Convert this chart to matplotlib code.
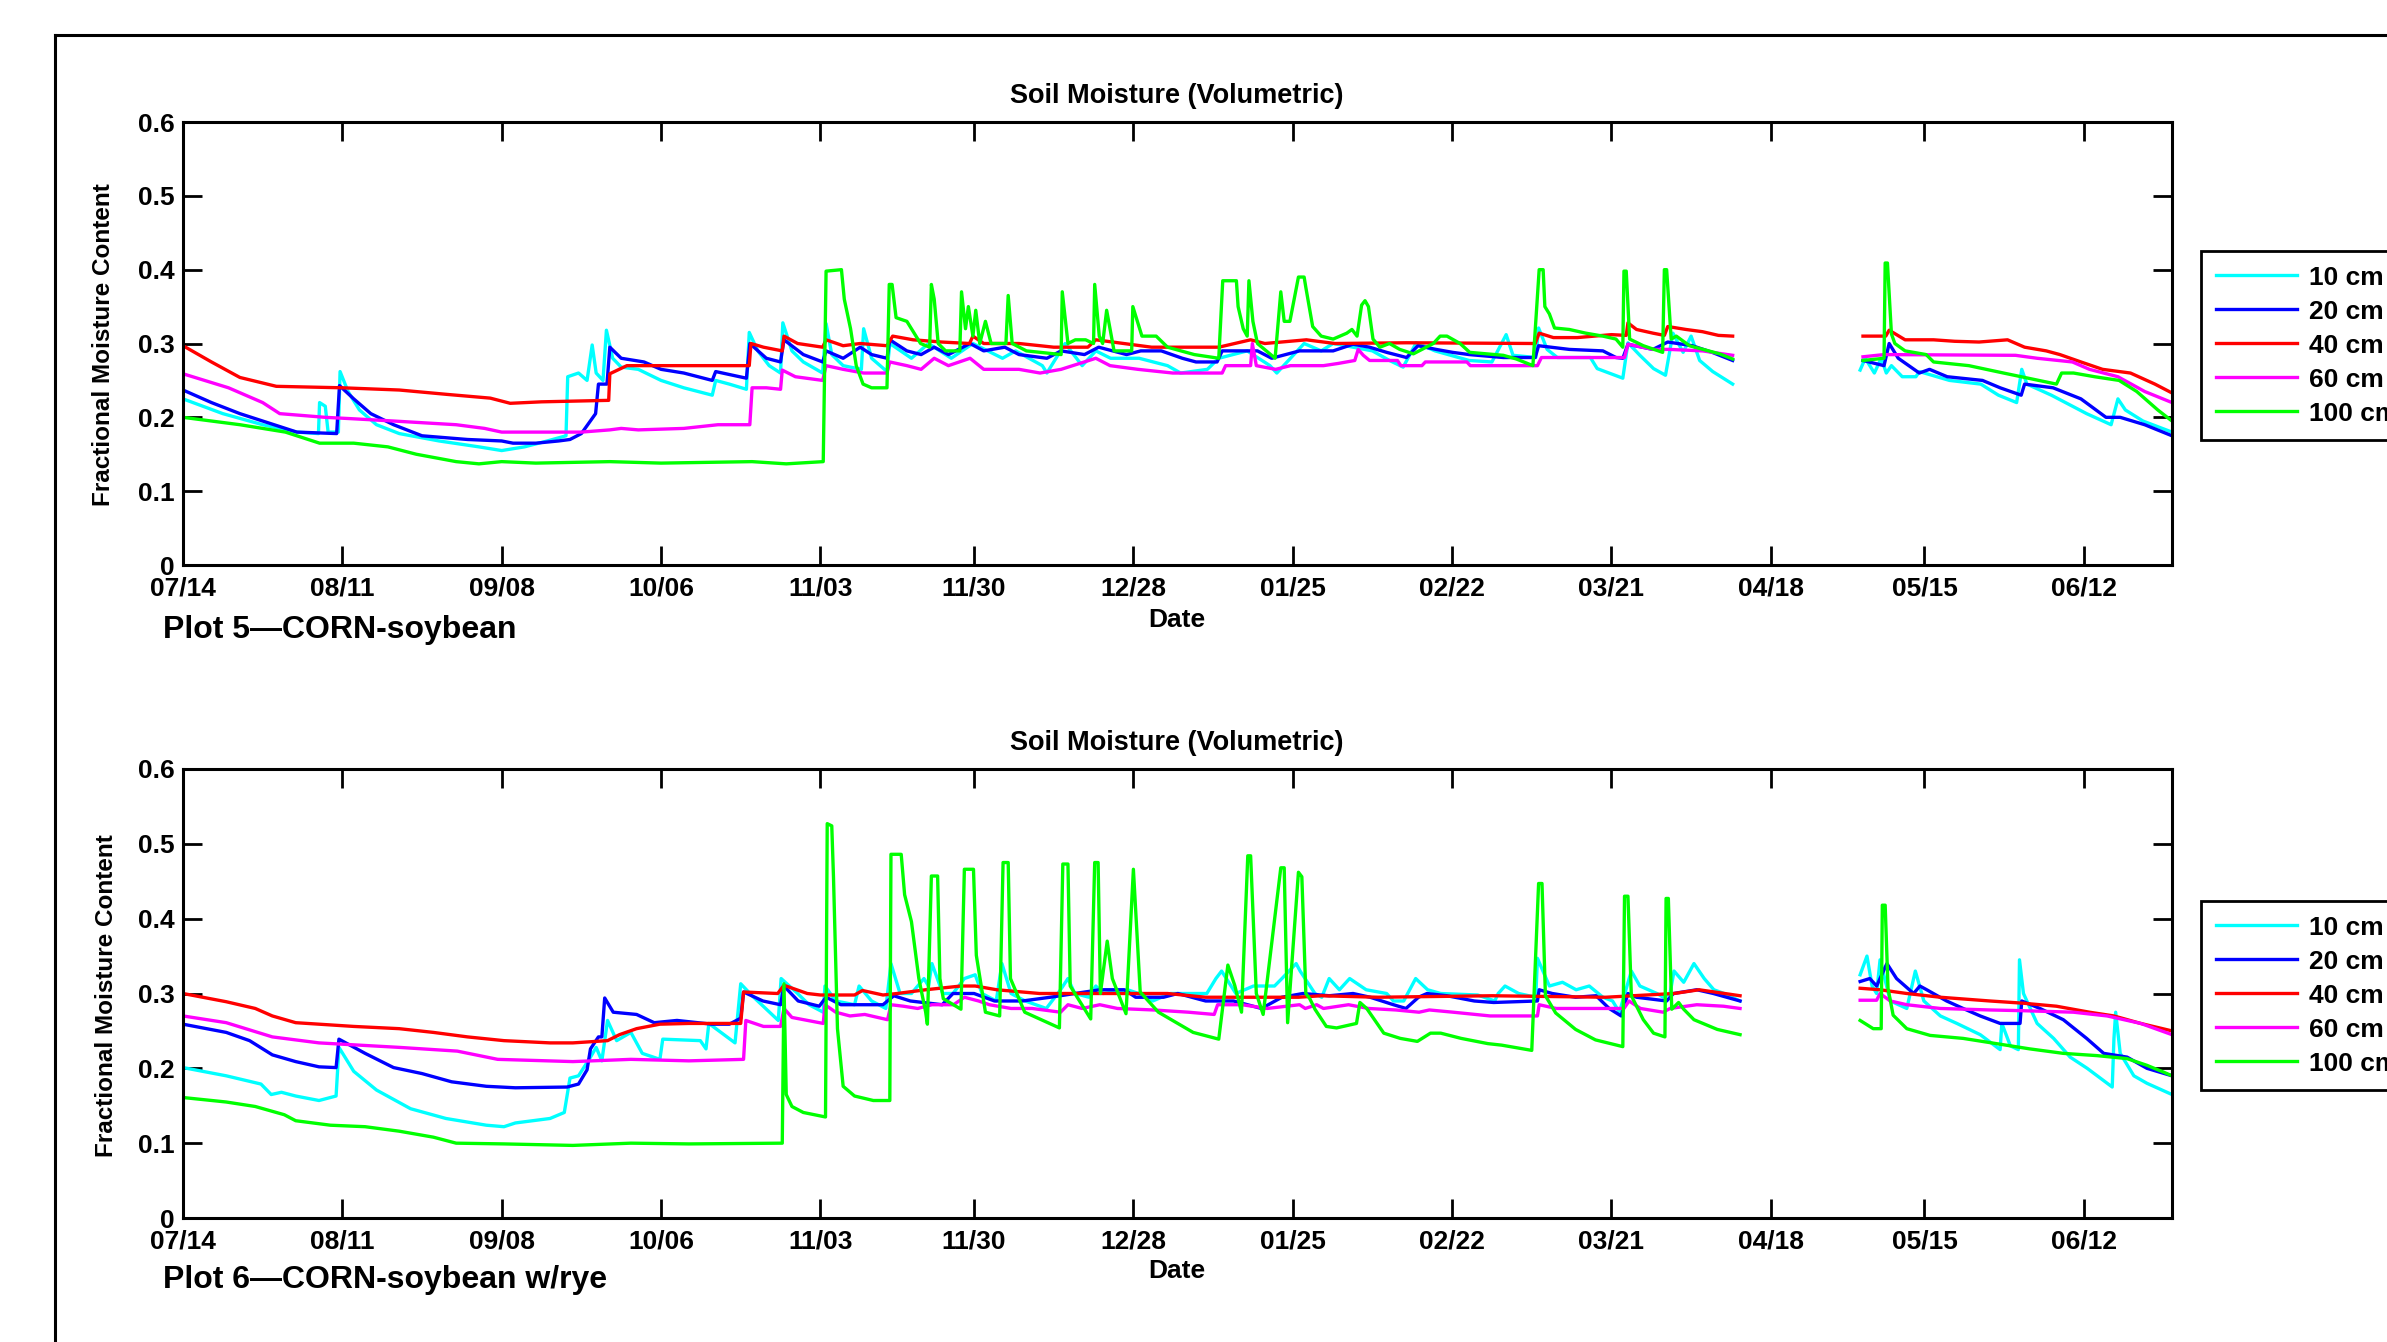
import numpy as np
import matplotlib
matplotlib.use("Agg")
import matplotlib.pyplot as plt
from matplotlib.lines import Line2D

nan = np.nan

# x axis: days after 07/14
tick_days = [0, 28, 56, 84, 112, 139, 167, 195, 223, 251, 279, 306, 334]
tick_labels = ['07/14', '08/11', '09/08', '10/06', '11/03', '11/30', '12/28',
               '01/25', '02/22', '03/21', '04/18', '05/15', '06/12']
y_ticks = [0, 0.1, 0.2, 0.3, 0.4, 0.5, 0.6]
y_labels = ['0', '0.1', '0.2', '0.3', '0.4', '0.5', '0.6']
depths = ['10 cm', '20 cm', '40 cm', '60 cm', '100 cm']
colors = ['#00ffff', '#0000ff', '#ff0000', '#ff00ff', '#00ff00']

# ---- Plot 5 (day, moisture) ----
p5_10 = [(0, 0.225), (7, 0.205), (14, 0.19), (20, 0.18), (23.8, 0.178), (24, 0.22), (25, 0.215),
         (25.5, 0.18), (27.3, 0.18), (27.6, 0.262), (29, 0.235), (31, 0.21), (34, 0.19), (38, 0.178),
         (45, 0.168), (52, 0.16), (56, 0.155), (60, 0.16), (64, 0.168), (67.3, 0.175), (67.6, 0.255),
         (69.5, 0.26), (71, 0.25), (71.9, 0.298), (72.6, 0.26), (73.8, 0.25), (74.4, 0.318), (75.5, 0.28),
         (77, 0.268), (80, 0.265), (84, 0.25), (88, 0.24), (93, 0.23), (93.6, 0.25), (96, 0.245),
         (99, 0.238), (99.5, 0.315), (101, 0.29), (103, 0.27), (105, 0.26), (105.4, 0.328), (107, 0.29),
         (109, 0.275), (112.4, 0.26), (113, 0.327), (114, 0.285), (116, 0.27), (119.2, 0.265),
         (119.6, 0.32), (121, 0.28), (123.7, 0.262), (124.2, 0.3), (128, 0.28), (131, 0.3), (135, 0.28),
         (138.8, 0.3), (144, 0.28), (146.3, 0.29), (151, 0.27), (151.8, 0.26), (155, 0.3), (158, 0.27),
         (160.4, 0.29), (163, 0.28), (168, 0.28), (173, 0.27), (175.3, 0.26), (180, 0.265), (182, 0.28),
         (187, 0.29), (191, 0.27), (192.2, 0.26), (194.6, 0.28), (197, 0.3), (200, 0.29), (202.1, 0.3),
         (205.6, 0.295), (209, 0.29), (212, 0.277), (214.4, 0.268), (216.7, 0.301), (220, 0.29),
         (226, 0.277), (230, 0.275), (232.5, 0.312), (233.7, 0.284), (237.7, 0.281), (238.2, 0.321),
         (239.7, 0.292), (241.5, 0.281), (247.3, 0.281), (248.5, 0.266), (253, 0.253), (253.9, 0.301),
         (256, 0.284), (258.4, 0.266), (260.5, 0.257), (261.8, 0.314), (263.6, 0.288), (265, 0.31),
         (266.5, 0.277), (268.8, 0.262), (272.3, 0.245), (283, nan),
         (294.7, 0.264), (295.6, 0.28), (297.2, 0.26), (298.4, 0.28), (299.3, 0.26), (300.2, 0.27),
         (302.1, 0.255), (304.5, 0.255), (305.1, 0.262), (310.4, 0.25), (315.9, 0.245), (319, 0.23),
         (322.2, 0.22), (323.1, 0.265), (324, 0.245), (328.3, 0.23), (334.5, 0.205), (338.8, 0.19),
         (340, 0.225), (341.3, 0.21), (344.4, 0.195), (349.5, 0.18)]

p5_20 = [(0, 0.237), (5, 0.22), (10, 0.205), (16, 0.19), (20, 0.18), (27, 0.178), (27.5, 0.243),
         (30, 0.225), (33, 0.205), (37, 0.19), (42, 0.175), (50, 0.17), (56, 0.168), (58, 0.165),
         (62, 0.165), (66, 0.168), (68, 0.17), (70, 0.178), (72.5, 0.205), (73, 0.245), (74.5, 0.245),
         (75, 0.295), (77, 0.28), (81, 0.275), (84, 0.265), (88, 0.26), (93, 0.25), (93.6, 0.262),
         (96, 0.258), (99, 0.253), (99.6, 0.3), (102.5, 0.28), (105, 0.275), (105.6, 0.305), (109, 0.285),
         (112.4, 0.275), (113, 0.29), (116, 0.28), (119, 0.295), (121, 0.285), (123.7, 0.28),
         (124.2, 0.305), (127.2, 0.29), (129.7, 0.285), (132, 0.295), (134.5, 0.285), (138.3, 0.3),
         (140.7, 0.29), (144.4, 0.295), (146.9, 0.285), (151.8, 0.28), (154.3, 0.29), (158.4, 0.285),
         (160.9, 0.295), (165.8, 0.285), (168.3, 0.29), (171.9, 0.29), (175.6, 0.28), (178, 0.275),
         (181.7, 0.275), (182.6, 0.29), (188.8, 0.29), (191.3, 0.28), (196.2, 0.29), (202.1, 0.29),
         (205.6, 0.299), (208.5, 0.295), (211.5, 0.288), (215, 0.281), (217, 0.297), (220.2, 0.292),
         (223.1, 0.288), (226, 0.285), (232, 0.281), (237.6, 0.281), (238.2, 0.297), (243.6, 0.292),
         (249.5, 0.29), (251.8, 0.281), (253, 0.28), (253.9, 0.299), (258.3, 0.292), (260.9, 0.302),
         (265.2, 0.297), (268.7, 0.288), (272.3, 0.277), (283, nan),
         (295.2, 0.277), (298.9, 0.27), (299.8, 0.3), (301.4, 0.28), (305.1, 0.26), (306.9, 0.265),
         (310, 0.255), (316.2, 0.25), (319.3, 0.24), (323, 0.23), (323.6, 0.245), (328.6, 0.24),
         (333.5, 0.225), (337.9, 0.2), (340.4, 0.2), (344.7, 0.19), (349.5, 0.175)]

p5_40 = [(0, 0.297), (5, 0.275), (10, 0.254), (16.4, 0.242), (28, 0.24), (38, 0.237), (46.5, 0.231),
         (54, 0.226), (57.5, 0.219), (63, 0.221), (74.8, 0.223), (75, 0.259), (78, 0.27), (99.5, 0.27),
         (99.8, 0.3), (102, 0.295), (105.3, 0.29), (105.6, 0.31), (108, 0.3), (112.4, 0.295),
         (113, 0.305), (116, 0.297), (119, 0.3), (123.7, 0.297), (124.7, 0.31), (128.3, 0.305),
         (133.3, 0.302), (138.2, 0.3), (138.8, 0.31), (140.7, 0.3), (146.9, 0.3), (150.6, 0.297),
         (153, 0.295), (159, 0.295), (160.4, 0.305), (165.3, 0.3), (170.2, 0.295), (182, 0.295),
         (187.6, 0.305), (190.1, 0.3), (197.4, 0.305), (202.4, 0.3), (215, 0.301), (237.6, 0.3),
         (238.3, 0.314), (240.8, 0.308), (245, 0.308), (251, 0.312), (253.6, 0.311), (253.9, 0.328),
         (255.4, 0.319), (258.3, 0.314), (260.3, 0.311), (260.9, 0.323), (264.1, 0.319), (267, 0.316),
         (269.8, 0.311), (272.3, 0.31), (283, nan),
         (295.2, 0.31), (299.2, 0.31), (299.8, 0.318), (302.6, 0.305), (307.6, 0.305), (311.3, 0.303),
         (315.6, 0.302), (320.6, 0.305), (323.6, 0.295), (327.4, 0.29), (329.8, 0.285), (333.5, 0.275),
         (337.3, 0.265), (342.2, 0.26), (346.5, 0.245), (349.5, 0.233)]

p5_60 = [(0, 0.259), (8, 0.24), (14, 0.22), (17, 0.205), (25, 0.2), (30, 0.198), (37, 0.195),
         (48, 0.19), (53, 0.185), (56, 0.18), (70, 0.18), (75, 0.183), (77, 0.185), (80, 0.183),
         (88, 0.185), (94, 0.19), (99.6, 0.19), (100, 0.24), (102.5, 0.24), (105, 0.238), (105.3, 0.264),
         (107.6, 0.255), (112.4, 0.25), (113, 0.27), (116, 0.265), (119.6, 0.26), (123.7, 0.26),
         (124.2, 0.275), (127.2, 0.27), (129.7, 0.265), (132, 0.28), (134.5, 0.27), (138.3, 0.28),
         (140.7, 0.265), (146.9, 0.265), (150.6, 0.26), (154.3, 0.265), (160.4, 0.28), (162.9, 0.27),
         (167.8, 0.265), (173.9, 0.26), (182.6, 0.26), (183.2, 0.27), (187.6, 0.27), (187.9, 0.3),
         (188.6, 0.27), (192, 0.265), (194.6, 0.27), (200.4, 0.27), (203, 0.273), (205.9, 0.277),
         (206.5, 0.292), (207.4, 0.284), (208.5, 0.277), (213.4, 0.277), (214, 0.27), (217.7, 0.27),
         (218.3, 0.275), (225.6, 0.275), (226.2, 0.27), (238, 0.27), (238.7, 0.281), (253.3, 0.281),
         (253.9, 0.299), (258.3, 0.292), (261.2, 0.292), (267, 0.29), (272.3, 0.284), (283, nan),
         (295.2, 0.282), (298.9, 0.285), (322, 0.284), (325.8, 0.28), (332, 0.275), (335, 0.265),
         (340, 0.255), (344.7, 0.235), (349.5, 0.22)]

p5_100 = [(0, 0.2), (10, 0.19), (18, 0.18), (24, 0.165), (30, 0.165), (36, 0.16), (41, 0.15),
          (48, 0.14), (52, 0.137), (56, 0.14), (62, 0.138), (75, 0.14), (84, 0.138), (100, 0.14),
          (106, 0.137), (112.5, 0.14), (113, 0.398), (115.7, 0.4), (116.2, 0.36), (117.3, 0.32),
          (118.3, 0.27), (119.5, 0.245), (121, 0.24), (123.7, 0.24), (124.1, 0.38), (124.6, 0.38),
          (125.3, 0.335), (127.2, 0.33), (129.6, 0.3), (131.2, 0.295), (131.5, 0.38), (132, 0.36),
          (132.7, 0.3), (134, 0.29), (136.5, 0.29), (136.8, 0.37), (137.5, 0.32), (138, 0.35),
          (138.8, 0.31), (139.3, 0.345), (140, 0.3), (141, 0.33), (142, 0.3), (144.6, 0.3), (145, 0.365),
          (145.7, 0.3), (148.2, 0.29), (154.3, 0.285), (154.5, 0.37), (155.5, 0.3), (156.8, 0.305),
          (158.6, 0.305), (160, 0.3), (160.2, 0.38), (161, 0.31), (161.6, 0.3), (162.3, 0.345),
          (163.6, 0.29), (166.7, 0.29), (166.9, 0.35), (168.5, 0.31), (171, 0.31), (173, 0.295),
          (177.7, 0.285), (182, 0.28), (182.7, 0.385), (185.1, 0.385), (185.4, 0.35), (186.3, 0.32),
          (187, 0.31), (187.3, 0.385), (188, 0.33), (188.8, 0.3), (191.9, 0.28), (192.9, 0.37),
          (193.5, 0.33), (194.5, 0.33), (196, 0.39), (197, 0.39), (197.3, 0.376), (198.5, 0.323),
          (200, 0.31), (202.1, 0.306), (204.5, 0.314), (205.4, 0.319), (206.3, 0.31), (207.1, 0.352),
          (207.7, 0.358), (208.3, 0.35), (209.1, 0.306), (210.3, 0.295), (212, 0.3), (213.8, 0.292),
          (216.2, 0.286), (219.7, 0.3), (220.9, 0.31), (222.1, 0.31), (224.4, 0.3), (226.1, 0.288),
          (232, 0.284), (234.3, 0.279), (237.2, 0.27), (238.3, 0.4), (239, 0.4), (239.3, 0.35),
          (240.1, 0.34), (241, 0.321), (243.6, 0.319), (246.5, 0.314), (249.5, 0.31), (251.8, 0.306),
          (253, 0.295), (253.2, 0.398), (253.6, 0.398), (254.2, 0.306), (256.6, 0.297), (260, 0.288),
          (260.3, 0.4), (260.7, 0.4), (261.5, 0.306), (262.4, 0.31), (264.7, 0.297), (267.1, 0.292),
          (270, 0.286), (272.3, 0.279), (283, nan),
          (295.2, 0.277), (298.9, 0.28), (299.1, 0.409), (299.5, 0.409), (300.2, 0.313), (300.8, 0.3),
          (302.6, 0.29), (306.3, 0.285), (307.6, 0.275), (313.8, 0.27), (319.9, 0.26), (326.1, 0.25),
          (329.2, 0.245), (330.1, 0.26), (332.2, 0.26), (335.9, 0.255), (340.2, 0.25), (343.3, 0.235),
          (347, 0.21), (349.5, 0.195)]

# ---- Plot 6 (day, moisture) ----
p6_10 = [(0, 0.201), (7.6, 0.19), (13.7, 0.179), (15.5, 0.165), (17.3, 0.168), (19.8, 0.163),
         (23.9, 0.157), (26.9, 0.163), (27.4, 0.228), (30, 0.196), (34, 0.171), (40, 0.146),
         (46.2, 0.133), (53.3, 0.124), (56.4, 0.122), (58.4, 0.127), (64.5, 0.133), (67, 0.141),
         (68, 0.187), (69.5, 0.19), (71.6, 0.215), (72.6, 0.228), (73.6, 0.21), (74.6, 0.264),
         (76.2, 0.237), (78.7, 0.248), (80.7, 0.22), (83.8, 0.212), (84.3, 0.239), (90.9, 0.237),
         (91.9, 0.226), (92.4, 0.26), (97, 0.234), (98, 0.313), (100, 0.297), (104.6, 0.264),
         (105.1, 0.32), (108, 0.3), (110, 0.285), (112.5, 0.275), (112.8, 0.31), (114.7, 0.29),
         (118, 0.285), (118.8, 0.31), (121, 0.29), (123.5, 0.28), (124.4, 0.34), (126, 0.3), (128, 0.3),
         (130.2, 0.32), (131, 0.31), (131.6, 0.34), (133.5, 0.3), (135.3, 0.3), (137.3, 0.32),
         (139.2, 0.325), (140.4, 0.3), (142.9, 0.29), (143.9, 0.34), (145.5, 0.3), (148, 0.29),
         (151.7, 0.28), (154.2, 0.305), (155.5, 0.32), (156.7, 0.3), (159.2, 0.295), (160.4, 0.31),
         (161.7, 0.3), (166, 0.305), (167.9, 0.3), (170.4, 0.29), (173.5, 0.3), (179.9, 0.3),
         (181.5, 0.32), (182.5, 0.33), (185, 0.3), (188.1, 0.31), (191.8, 0.31), (193.1, 0.32),
         (195.6, 0.34), (196.3, 0.33), (198.9, 0.3), (200.1, 0.295), (201.4, 0.32), (203.2, 0.305),
         (205, 0.32), (207.9, 0.305), (211.5, 0.3), (212.7, 0.29), (214.5, 0.29), (216.6, 0.32),
         (218.7, 0.305), (221, 0.3), (227.5, 0.298), (230.5, 0.29), (231.1, 0.3), (232.3, 0.31),
         (234.7, 0.3), (237.7, 0.295), (238, 0.347), (240.1, 0.31), (242.4, 0.315), (244.8, 0.305),
         (247.1, 0.31), (249.5, 0.295), (251.2, 0.29), (252.4, 0.275), (254.5, 0.33), (256, 0.31),
         (259, 0.3), (260.1, 0.295), (261.3, 0.3), (262, 0.33), (263.7, 0.315), (265.5, 0.34),
         (267.3, 0.32), (269, 0.305), (270.8, 0.3), (273.6, 0.29), (284, nan),
         (294.7, 0.325), (295.9, 0.35), (296.8, 0.31), (297.6, 0.3), (298.2, 0.345), (300, 0.29),
         (302.9, 0.28), (304.4, 0.33), (305.9, 0.29), (308.8, 0.27), (311.7, 0.26), (315.8, 0.245),
         (319.3, 0.225), (319.6, 0.26), (321.1, 0.23), (322.5, 0.225), (322.7, 0.345), (323.4, 0.3),
         (325.8, 0.26), (328.7, 0.24), (331.6, 0.215), (334.6, 0.2), (338.1, 0.18), (339, 0.175),
         (339.3, 0.24), (339.6, 0.275), (340.4, 0.22), (342.8, 0.19), (345.1, 0.18), (349.5, 0.165)]

p6_20 = [(0, 0.259), (7.6, 0.248), (11.7, 0.237), (15.7, 0.218), (19.8, 0.209), (23.9, 0.202),
         (26.9, 0.201), (27.4, 0.239), (32, 0.22), (37, 0.201), (42, 0.193), (47.2, 0.182),
         (53.3, 0.176), (58.4, 0.174), (67.5, 0.175), (69.5, 0.179), (71, 0.198), (71.6, 0.226),
         (73, 0.242), (73.6, 0.242), (74.1, 0.294), (75.6, 0.275), (79.7, 0.272), (82.8, 0.261),
         (86.8, 0.264), (92.9, 0.259), (96, 0.259), (98, 0.267), (98.5, 0.302), (101.9, 0.29),
         (105, 0.285), (105.6, 0.31), (108.1, 0.29), (111.8, 0.283), (113, 0.295), (115.6, 0.285),
         (123, 0.285), (124.9, 0.297), (127.8, 0.29), (133.4, 0.285), (135.3, 0.3), (139, 0.3),
         (142.6, 0.29), (147.5, 0.29), (152.4, 0.295), (161.1, 0.305), (165.4, 0.305), (167.4, 0.295),
         (172.3, 0.295), (174.8, 0.3), (179.7, 0.29), (184.6, 0.29), (189.5, 0.28), (193.1, 0.295),
         (196.8, 0.3), (201.4, 0.297), (205.6, 0.3), (208.6, 0.295), (212.7, 0.285), (214.9, 0.28),
         (217.1, 0.295), (218.6, 0.3), (222.1, 0.297), (226.9, 0.29), (230.3, 0.288), (238, 0.29),
         (238.3, 0.305), (240.6, 0.3), (244.7, 0.295), (248.3, 0.297), (250.6, 0.28), (252.7, 0.27),
         (253.9, 0.3), (255.4, 0.295), (260.7, 0.29), (261.9, 0.3), (266, 0.305), (268.9, 0.3),
         (273.6, 0.29), (284, nan),
         (294.7, 0.316), (296.4, 0.32), (297.6, 0.31), (299.4, 0.34), (301.1, 0.32), (304.1, 0.3),
         (305.2, 0.31), (306.4, 0.305), (309.9, 0.29), (312.8, 0.28), (315.8, 0.27), (319.3, 0.26),
         (322.8, 0.26), (323.1, 0.29), (326.3, 0.28), (330.4, 0.265), (334.5, 0.24), (337.5, 0.22),
         (341.6, 0.215), (345.1, 0.2), (349.5, 0.19)]

p6_40 = [(0, 0.3), (7.6, 0.289), (12.7, 0.28), (15.7, 0.27), (19.8, 0.261), (23.9, 0.259),
         (30, 0.256), (38, 0.253), (44, 0.248), (50, 0.242), (56.4, 0.237), (64.5, 0.234),
         (68.5, 0.234), (74.6, 0.237), (76.7, 0.245), (79.7, 0.253), (83.8, 0.259), (88.9, 0.26),
         (98, 0.26), (98.5, 0.302), (104.5, 0.3), (105.6, 0.311), (109.7, 0.3), (112, 0.298),
         (118, 0.298), (119.4, 0.304), (123, 0.298), (125.5, 0.3), (130.5, 0.305), (136.7, 0.31),
         (139.2, 0.31), (143, 0.305), (150.5, 0.3), (173, 0.3), (179.7, 0.295), (196, 0.295),
         (200, 0.297), (210, 0.295), (230, 0.297), (250, 0.295), (262, 0.3), (266.4, 0.305),
         (273.6, 0.297), (284, nan),
         (294.7, 0.307), (298.2, 0.305), (302.9, 0.3), (308.8, 0.295), (317.5, 0.29), (323.4, 0.287),
         (329.2, 0.283), (335, 0.275), (339.3, 0.27), (344, 0.26), (349.5, 0.25)]

p6_60 = [(0, 0.27), (7.6, 0.261), (15.7, 0.242), (23.9, 0.234), (38, 0.228), (48.2, 0.223),
         (55.3, 0.212), (68.5, 0.209), (78.7, 0.212), (88.9, 0.21), (98.5, 0.212), (98.9, 0.264),
         (102, 0.256), (105, 0.256), (105.6, 0.28), (107, 0.268), (112.5, 0.26), (112.8, 0.285),
         (114.7, 0.275), (117.2, 0.27), (119.8, 0.272), (123.8, 0.265), (124.4, 0.285), (126.6, 0.283),
         (129.1, 0.28), (131.6, 0.285), (135.4, 0.285), (137.3, 0.295), (139.8, 0.29), (141.7, 0.285),
         (145.5, 0.28), (149.2, 0.28), (154.2, 0.275), (155.5, 0.285), (158, 0.28), (161.1, 0.285),
         (164.2, 0.28), (170.5, 0.278), (176.7, 0.275), (181.2, 0.272), (181.8, 0.285), (186.1, 0.285),
         (190.5, 0.28), (196.2, 0.285), (197.2, 0.28), (199.2, 0.285), (200.4, 0.28), (204.8, 0.285),
         (208.3, 0.28), (213.1, 0.278), (217.2, 0.275), (219, 0.278), (223.2, 0.275), (229.7, 0.27),
         (238, 0.27), (238.3, 0.285), (241.3, 0.28), (253.2, 0.28), (254.1, 0.29), (256.1, 0.28),
         (260.1, 0.275), (261.3, 0.28), (266, 0.285), (270.7, 0.283), (273.6, 0.28), (284, nan),
         (294.7, 0.291), (297.6, 0.291), (298.2, 0.3), (300, 0.29), (302.9, 0.285), (308.8, 0.28),
         (317.5, 0.278), (323.4, 0.277), (332.2, 0.275), (338.1, 0.27), (344, 0.26), (349.5, 0.245)]

p6_100 = [(0, 0.161), (7.6, 0.155), (12.7, 0.149), (17.8, 0.138), (19.8, 0.13), (25.9, 0.124),
          (32, 0.122), (38, 0.116), (44, 0.108), (48, 0.1), (56.4, 0.099), (68.5, 0.097), (78.7, 0.1),
          (88.9, 0.099), (105.3, 0.1), (105.6, 0.313), (106, 0.165), (107, 0.149), (109, 0.141),
          (112.9, 0.135), (113.2, 0.527), (114, 0.524), (114.3, 0.456), (115, 0.253), (116, 0.176),
          (118, 0.163), (121.3, 0.157), (124.2, 0.157), (124.4, 0.486), (126.2, 0.486), (126.8, 0.432),
          (128, 0.396), (129.3, 0.32), (130.5, 0.275), (130.8, 0.259), (131.5, 0.457), (132.6, 0.457),
          (133, 0.32), (133.6, 0.293), (136.7, 0.279), (137.3, 0.466), (138.9, 0.466), (139.4, 0.351),
          (141, 0.275), (143.5, 0.27), (144.1, 0.475), (145, 0.475), (145.4, 0.32), (147.9, 0.275),
          (154, 0.254), (154.6, 0.473), (155.5, 0.473), (155.9, 0.31), (159.5, 0.266), (160.2, 0.475),
          (160.8, 0.475), (161.2, 0.3), (162.4, 0.37), (163.3, 0.32), (165.7, 0.273), (167, 0.466),
          (168.2, 0.302), (171.4, 0.275), (177.5, 0.248), (182, 0.239), (183.6, 0.338), (184.8, 0.311),
          (186, 0.275), (187.1, 0.484), (187.6, 0.484), (188.6, 0.3), (189.8, 0.272), (192.9, 0.468),
          (193.5, 0.468), (194.1, 0.261), (196, 0.462), (196.6, 0.456), (197.3, 0.3), (198, 0.293),
          (198.9, 0.279), (200.9, 0.256), (202.7, 0.254), (206.2, 0.26), (206.8, 0.288), (208, 0.28),
          (211, 0.247), (213.9, 0.24), (216.9, 0.236), (219.2, 0.247), (221, 0.247), (224.6, 0.24),
          (229.3, 0.233), (231.7, 0.231), (237, 0.224), (238.2, 0.447), (238.8, 0.447), (239.4, 0.297),
          (241.2, 0.274), (244.7, 0.252), (248.2, 0.238), (253, 0.229), (253.3, 0.43), (253.9, 0.43),
          (254.5, 0.297), (256.6, 0.265), (258.4, 0.247), (260.4, 0.242), (260.6, 0.427), (261, 0.427),
          (261.6, 0.279), (262.8, 0.288), (263.7, 0.279), (265.5, 0.265), (269.6, 0.252),
          (273.6, 0.245), (284, nan),
          (294.7, 0.264), (297, 0.253), (298.4, 0.253), (298.6, 0.418), (299.1, 0.418), (299.6, 0.307),
          (300.5, 0.271), (302.9, 0.253), (307, 0.244), (312.8, 0.24), (318.7, 0.233), (324.5, 0.226),
          (330.4, 0.22), (336.3, 0.217), (341.6, 0.213), (345.1, 0.204), (348, 0.195), (349.5, 0.19)]

plot5 = [p5_10, p5_20, p5_40, p5_60, p5_100]
plot6 = [p6_10, p6_20, p6_40, p6_60, p6_100]

W, H = 2387, 1342
fig = plt.figure(figsize=(W / 100, H / 100), dpi=100)
fig.patch.set_facecolor('white')

text_font = ['Liberation Sans', 'DejaVu Sans']


def px_box(left, top, right, bottom):
    return [left / W, 1 - bottom / H, (right - left) / W, (bottom - top) / H]


def draw_panel(ax, series, legend_top):
    for data, col, name in zip(series, colors, depths):
        arr = np.array(data, dtype=float)
        ax.plot(arr[:, 0], arr[:, 1], color=col, lw=2.4, label=name)
    ax.set_xlim(0, 349.5)
    ax.set_ylim(0, 0.6)
    ax.set_xticks(tick_days)
    ax.set_xticklabels(tick_labels)
    ax.set_yticks(y_ticks)
    ax.set_yticklabels(y_labels)
    ax.tick_params(direction='in', length=14, width=2, top=True, right=True, labelsize=19)
    ax.tick_params(axis='x', pad=8)
    ax.tick_params(axis='y', pad=6)
    for lab in ax.get_xticklabels() + ax.get_yticklabels():
        lab.set_family(text_font)
        lab.set_fontweight('bold')
    for sp in ax.spines.values():
        sp.set_linewidth(2.2)
    leg = ax.legend(loc='upper left', bbox_to_anchor=(2201 / W, 1 - legend_top / H),
                    bbox_transform=fig.transFigure, frameon=True, fancybox=False,
                    framealpha=1, edgecolor='black', borderaxespad=0,
                    prop={'family': text_font, 'weight': 'bold', 'size': 19},
                    handlelength=3.1, handletextpad=0.45, labelspacing=0.38, borderpad=0.55)
    leg.get_frame().set_linewidth(2)


ax1 = fig.add_axes(px_box(183, 122, 2172, 565))
ax2 = fig.add_axes(px_box(183, 769, 2172, 1218))
draw_panel(ax1, plot5, 251)
draw_panel(ax2, plot6, 901)

cx = 1177 / W
for mid, title_y, date_y, lab_y, ylab_x, name in [
        (345, 96, 620, 630, 104, 'Plot 5\u2014CORN-soybean'),
        (996, 743, 1271, 1280, 107, 'Plot 6\u2014CORN-soybean w/rye')]:
    fig.text(cx, 1 - title_y / H, 'Soil Moisture (Volumetric)', ha='center', va='center',
             fontsize=19.5, fontweight='bold', family=text_font)
    fig.text(cx, 1 - date_y / H, 'Date', ha='center', va='center',
             fontsize=19, fontweight='bold', family=text_font)
    fig.text(163 / W, 1 - lab_y / H, name, ha='left', va='center',
             fontsize=23, fontweight='bold', family=text_font)
    fig.text(ylab_x / W, 1 - mid / H, 'Fractional Moisture Content', ha='center', va='center',
             rotation=90, fontsize=17.5, fontweight='bold', family=text_font)

# outer frame, left and top edges only visible
fx, fy = 55 / W, 1 - 35 / H
fig.add_artist(Line2D([fx, fx], [0, fy], transform=fig.transFigure, color='black', lw=2.2))
fig.add_artist(Line2D([fx, 1], [fy, fy], transform=fig.transFigure, color='black', lw=2.2))

fig.savefig('out.png', dpi=100)
